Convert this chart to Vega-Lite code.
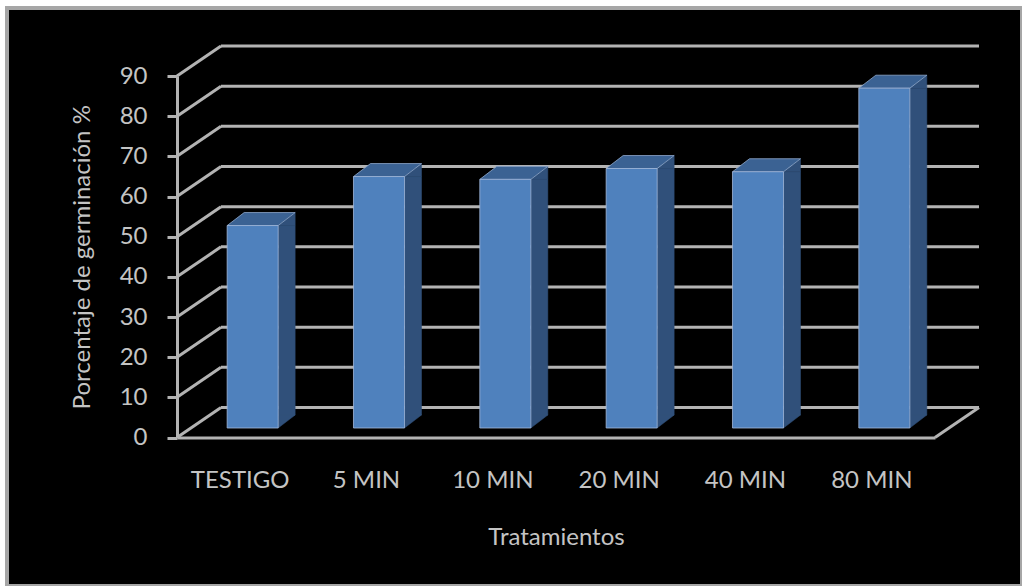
{
  "$schema": "https://vega.github.io/schema/vega-lite/v6.json",
  "width": 1015,
  "height": 578,
  "autosize": "none",
  "padding": {"left": 7, "top": 8, "right": 0, "bottom": 0},
  "background": "white",
  "config": {
    "view": {"fill": "black", "stroke": "#a6a6a6", "strokeWidth": 4},
    "font": "Lato"
  },
  "datasets": {
    "bars": [
      {"tratamiento": "TESTIGO", "porcentaje": 50.4},
      {"tratamiento": "5 MIN", "porcentaje": 62.6},
      {"tratamiento": "10 MIN", "porcentaje": 61.9},
      {"tratamiento": "20 MIN", "porcentaje": 64.6},
      {"tratamiento": "40 MIN", "porcentaje": 63.8},
      {"tratamiento": "80 MIN", "porcentaje": 84.6}
    ],
    "ticks": [
      {"porcentaje": 0}, {"porcentaje": 10}, {"porcentaje": 20}, {"porcentaje": 30}, {"porcentaje": 40},
      {"porcentaje": 50}, {"porcentaje": 60}, {"porcentaje": 70}, {"porcentaje": 80}, {"porcentaje": 90}
    ]
  },
  "resolve": {"scale": {"x": "independent"}, "axis": {"x": "independent"}},
  "layer": [
    {
      "data": {"name": "ticks"},
      "layer": [
        {
          "mark": {"type": "rule", "stroke": "#b3b3b3", "strokeWidth": 3, "xOffset": 44, "x2Offset": 44, "yOffset": -30, "y2Offset": -30},
          "encoding": {
            "x": {"datum": 0, "type": "quantitative", "scale": {"domain": [0, 1], "range": [170, 928]}, "axis": null},
            "x2": {"datum": 1},
            "y": {
              "field": "porcentaje", "type": "quantitative",
              "scale": {"domain": [0, 90], "range": [429.5, 68], "nice": false, "zero": true}
            },
            "y2": {"field": "porcentaje"}
          }
        },
        {
          "mark": {"type": "rule", "stroke": "#b3b3b3", "strokeWidth": 3, "x2Offset": 44, "y2Offset": -30},
          "encoding": {
            "x": {"datum": 0, "type": "quantitative"},
            "x2": {"datum": 0},
            "y": {"field": "porcentaje", "type": "quantitative"},
            "y2": {"field": "porcentaje"}
          }
        },
        {
          "transform": [{"filter": "datum.porcentaje == 0"}],
          "mark": {"type": "rule", "stroke": "#b3b3b3", "strokeWidth": 3, "x2Offset": 44, "y2Offset": -30},
          "encoding": {
            "x": {"datum": 1, "type": "quantitative"},
            "x2": {"datum": 1},
            "y": {"field": "porcentaje", "type": "quantitative"},
            "y2": {"field": "porcentaje"}
          }
        }
      ]
    },
    {
      "data": {"name": "bars"},
      "layer": [
        {
          "mark": {"type": "bar", "width": 17, "fill": "#30507a", "stroke": "#30507a", "strokeWidth": 0.5, "xOffset": 46.5, "yOffset": -9.5, "y2Offset": -22.5},
          "encoding": {
            "x": {
              "field": "tratamiento", "type": "nominal", "sort": null,
              "scale": {"type": "band", "domain": ["TESTIGO", "5 MIN", "10 MIN", "20 MIN", "40 MIN", "80 MIN"], "range": [170, 928], "paddingInner": 0.596, "paddingOuter": 0.298},
              "axis": {
                "orient": "bottom", "offset": -148.5, "labelAngle": 0,
                "domain": true, "domainColor": "#b3b3b3", "domainWidth": 3, "ticks": false, "grid": false,
                "labelFont": "Lato", "labelFontSize": 24, "labelColor": "#c4c4c4", "labelPadding": 31,
                "title": "Tratamientos", "titleFont": "Lato", "titleFontSize": 24, "titleFontWeight": "normal",
                "titleColor": "#c4c4c4", "titlePadding": 33
              }
            },
            "y": {
              "field": "porcentaje", "type": "quantitative",
              "scale": {"domain": [0, 90], "range": [429.5, 68], "nice": false, "zero": true},
              "axis": {
                "orient": "left", "offset": -170, "values": [0, 10, 20, 30, 40, 50, 60, 70, 80, 90],
                "grid": false, "domain": true, "domainColor": "#b3b3b3", "domainWidth": 3,
                "ticks": true, "tickSize": 10, "tickColor": "#b3b3b3", "tickWidth": 3,
                "labelFont": "Lato", "labelFontSize": 24, "labelColor": "#c4c4c4", "labelPadding": 20,
                "title": "Porcentaje de germinación %", "titleFont": "Lato", "titleFontSize": 24,
                "titleFontWeight": "normal", "titleColor": "#c4c4c4", "titlePadding": 25
              }
            },
            "y2": {"datum": 0}
          }
        },
        {
          "mark": {"type": "point", "shape": "M38,-9.5L55,-22.5L55,-9.5Z", "size": 4, "filled": true, "fill": "#30507a", "stroke": "#30507a", "strokeWidth": 0.5, "opacity": 1},
          "encoding": {
            "x": {"field": "tratamiento", "type": "nominal", "sort": null},
            "y": {"field": "porcentaje", "type": "quantitative"}
          }
        },
        {
          "mark": {"type": "point", "shape": "M38,-22.5L38,-9.5L55,-22.5Z", "size": 4, "filled": true, "fill": "#30507a", "stroke": "#30507a", "strokeWidth": 0.5, "opacity": 1},
          "encoding": {
            "x": {"field": "tratamiento", "type": "nominal", "sort": null},
            "y": {"datum": 0, "type": "quantitative"}
          }
        },
        {
          "mark": {"type": "point", "shape": "M-13,-9.5L38,-9.5L55,-22.5L4,-22.5Z", "size": 4, "filled": true, "fill": "#3b6293", "stroke": "#8fa8cc", "strokeWidth": 0.8, "opacity": 1},
          "encoding": {
            "x": {"field": "tratamiento", "type": "nominal", "sort": null},
            "y": {"field": "porcentaje", "type": "quantitative"}
          }
        },
        {
          "mark": {"type": "bar", "fill": "#4f81bd", "stroke": "#a3b9da", "strokeWidth": 0.8, "xOffset": 12.5, "yOffset": -9.5, "y2Offset": -9.5},
          "encoding": {
            "x": {"field": "tratamiento", "type": "nominal", "sort": null},
            "y": {"field": "porcentaje", "type": "quantitative"},
            "y2": {"datum": 0}
          }
        }
      ]
    }
  ]
}
